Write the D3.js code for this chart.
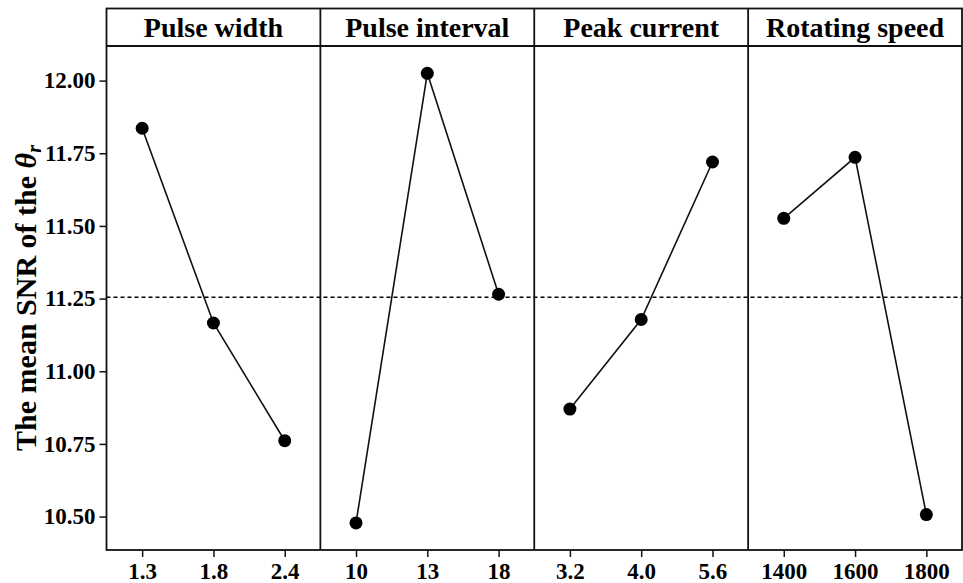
<!DOCTYPE html>
<html>
<head>
<meta charset="utf-8">
<script src="https://cdn.jsdelivr.net/npm/d3@7"></script>
<style>
  html, body { margin: 0; padding: 0; background: #fff; }
</style>
</head>
<body>
<div id="chart"></div>
<script>
const factors = ["Pulse width", "Pulse interval", "Peak current", "Rotating speed"];
const levelLabels = [
  ["1.3", "1.8", "2.4"],
  ["10", "13", "18"],
  ["3.2", "4.0", "5.6"],
  ["1400", "1600", "1800"]
];
const meanSNR = [
  [11.836, 11.166, 10.761],
  [10.478, 12.025, 11.265],
  [10.870, 11.178, 11.720],
  [11.526, 11.736, 10.507]
];
const grandMean = 11.255;
const yTicks = [10.50, 10.75, 11.00, 11.25, 11.50, 11.75, 12.00];

const W = 963, H = 583;
const plotLeft = 106.5, plotRight = 962, plotTop = 8.5, headBottom = 46, plotBottom = 550;
const panelW = (plotRight - plotLeft) / factors.length;
const font = "'Liberation Serif', 'Times New Roman', serif";

const svg = d3.select("#chart").append("svg")
  .attr("width", W).attr("height", H)
  .style("font-family", font);

const y = d3.scaleLinear().domain([10.385, 12.119]).range([plotBottom, headBottom]);

// dashed grand mean line
svg.append("line")
  .attr("x1", plotLeft).attr("x2", plotRight)
  .attr("y1", y(grandMean)).attr("y2", y(grandMean))
  .attr("stroke", "#000").attr("stroke-width", 1.5)
  .attr("stroke-dasharray", "4,3");

factors.forEach((name, i) => {
  const x0 = plotLeft + i * panelW;
  const x = d3.scalePoint().domain(levelLabels[i]).range([x0, x0 + panelW]).padding(0.5);
  const pts = levelLabels[i].map((l, j) => ({ l, v: meanSNR[i][j] }));

  svg.append("path")
    .datum(pts)
    .attr("fill", "none")
    .attr("stroke", "#111")
    .attr("stroke-width", 1.6)
    .attr("d", d3.line().x(d => x(d.l)).y(d => y(d.v)));

  svg.selectAll(null).data(pts).join("circle")
    .attr("cx", d => x(d.l)).attr("cy", d => y(d.v))
    .attr("r", 6.5).attr("fill", "#000");

  const ax = svg.append("g")
    .attr("transform", `translate(0,${plotBottom})`)
    .call(d3.axisBottom(x).tickSizeOuter(0).tickSize(7).tickPadding(6));
  ax.select(".domain").remove();
  ax.selectAll(".tick line").attr("stroke", "#111").attr("stroke-width", 1.5);
  ax.selectAll(".tick text")
    .attr("font-family", font).attr("font-size", 23).attr("font-weight", "bold")
    .attr("fill", "#000");

  // header
  svg.append("text")
    .attr("x", x0 + panelW / 2).attr("y", 37)
    .attr("text-anchor", "middle")
    .attr("font-size", 28).attr("font-weight", "bold").attr("fill", "#000")
    .text(name);

  if (i > 0) {
    svg.append("line")
      .attr("x1", x0).attr("x2", x0).attr("y1", plotTop).attr("y2", plotBottom)
      .attr("stroke", "#111").attr("stroke-width", 1.8);
  }
});

// y axis
const ay = svg.append("g")
  .attr("transform", `translate(${plotLeft},0)`)
  .call(d3.axisLeft(y).tickValues(yTicks).tickFormat(d3.format(".2f")).tickSize(7).tickPadding(4));
ay.select(".domain").remove();
ay.selectAll(".tick line").attr("stroke", "#111").attr("stroke-width", 1.5);
ay.selectAll(".tick text")
  .attr("font-family", font).attr("font-size", 23).attr("font-weight", "bold")
  .attr("fill", "#000");

// frame
svg.append("rect")
  .attr("x", plotLeft).attr("y", plotTop)
  .attr("width", plotRight - plotLeft).attr("height", plotBottom - plotTop)
  .attr("fill", "none").attr("stroke", "#111").attr("stroke-width", 1.8);
svg.append("line")
  .attr("x1", plotLeft).attr("x2", plotRight).attr("y1", headBottom).attr("y2", headBottom)
  .attr("stroke", "#111").attr("stroke-width", 1.8);

// y title
const yt = svg.append("text")
  .attr("transform", `translate(36,${(headBottom + plotBottom) / 2}) rotate(-90)`)
  .attr("text-anchor", "middle")
  .attr("font-size", 30).attr("font-weight", "bold").attr("fill", "#000");
yt.append("tspan").text("The mean SNR of the ");
yt.append("tspan").attr("font-style", "italic").text("θ");
yt.append("tspan").attr("font-style", "italic").attr("font-size", 20).attr("dy", 5).text("r");
</script>
</body>
</html>
